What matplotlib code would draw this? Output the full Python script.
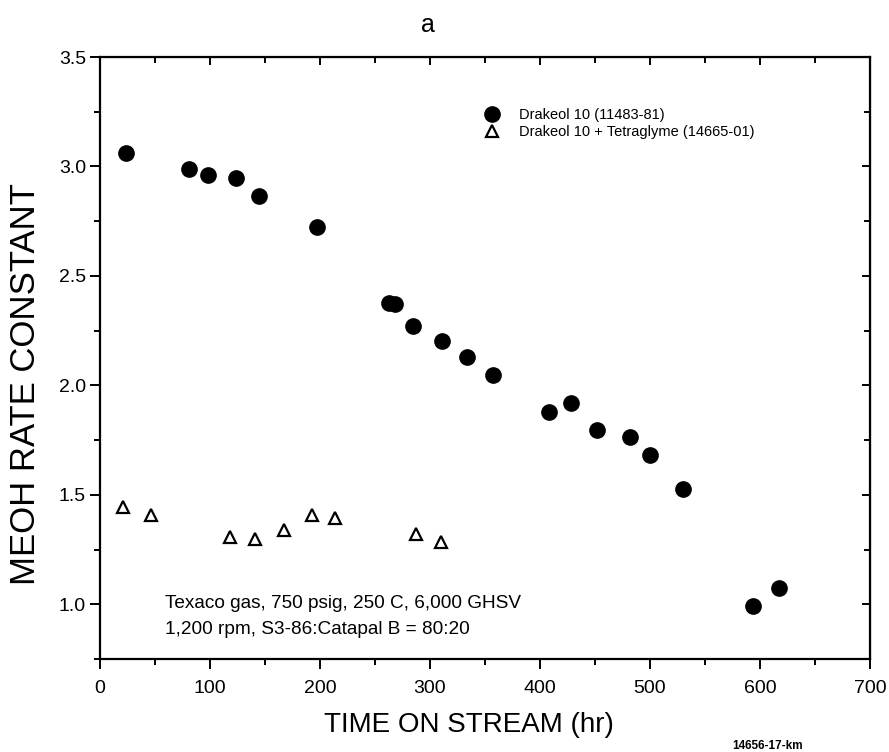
import matplotlib
matplotlib.use('Agg')
import matplotlib.pyplot as plt
from matplotlib.ticker import MultipleLocator, FormatStrFormatter

plt.rcParams['font.family'] = ['Liberation Sans', 'DejaVu Sans']

# Drakeol 10 (11483-81)
t_drak = [24, 81, 98, 124, 145, 197, 263, 268, 285, 311, 334, 357, 408, 428, 452, 482, 500, 530, 594, 617]
k_drak = [3.06, 2.99, 2.96, 2.945, 2.865, 2.725, 2.375, 2.37, 2.272, 2.203, 2.13, 2.047, 1.879, 1.92, 1.795, 1.765, 1.681, 1.525, 0.992, 1.075]

# Drakeol 10 + Tetraglyme (14665-01)
t_tetra = [21, 46, 118, 141, 167, 193, 214, 287, 310]
k_tetra = [1.442, 1.41, 1.308, 1.297, 1.341, 1.407, 1.396, 1.319, 1.285]

fig = plt.figure(figsize=(8.89, 7.52), dpi=100)
ax = fig.add_axes([0.1125, 0.1237, 0.866, 0.8005])

ax.plot(t_drak, k_drak, 'o', color='black', ms=11, label='Drakeol 10 (11483-81)')
ax.plot(t_tetra, k_tetra, '^', mfc='white', mec='black', mew=1.6, ms=9,
        label='Drakeol 10 + Tetraglyme (14665-01)')

ax.set_xlim(0, 700)
ax.set_ylim(0.75, 3.5)
ax.xaxis.set_major_locator(MultipleLocator(100))
ax.xaxis.set_minor_locator(MultipleLocator(50))
ax.set_yticks([1.0, 1.5, 2.0, 2.5, 3.0, 3.5])
ax.yaxis.set_minor_locator(MultipleLocator(0.25))
ax.yaxis.set_major_formatter(FormatStrFormatter('%.1f'))

for s in ax.spines.values():
    s.set_linewidth(1.6)
ax.tick_params(which='both', direction='out', width=1.4, labelsize=14)
ax.tick_params(which='major', length=7)
ax.tick_params(which='minor', length=4)
ax.tick_params(axis='x', pad=8)
ax.tick_params(axis='y', pad=3)
# inward ticks on top and right
ax2 = ax.secondary_xaxis('top')
ax2.xaxis.set_major_locator(MultipleLocator(100))
ax2.xaxis.set_minor_locator(MultipleLocator(50))
ax2.tick_params(which='both', direction='in', width=1.4, labeltop=False)
ax2.tick_params(which='major', length=6)
ax2.tick_params(which='minor', length=4)
ax3 = ax.secondary_yaxis('right')
ax3.yaxis.set_major_locator(MultipleLocator(0.5))
ax3.yaxis.set_minor_locator(MultipleLocator(0.25))
ax3.tick_params(which='both', direction='in', width=1.4, labelright=False)
ax3.tick_params(which='major', length=6)
ax3.tick_params(which='minor', length=4)

ax.set_xlabel('TIME ON STREAM (hr)', fontsize=20)
ax.set_ylabel('MEOH RATE CONSTANT', fontsize=25)
ax.xaxis.set_label_coords(0.479, -0.088)
ax.yaxis.set_label_coords(-0.076, 0.457)
fig.text(428 / 889, 1 - 25 / 752, 'a', fontsize=18, ha='center', va='center')

ax.legend(loc='upper left', bbox_to_anchor=(0.483, 0.925), frameon=False,
          fontsize=10.5, handletextpad=0.8, labelspacing=0.2, borderaxespad=0)

ax.text(59, 1.005, 'Texaco gas, 750 psig, 250 C, 6,000 GHSV', fontsize=13.7, va='center')
ax.text(59, 0.886, '1,200 rpm, S3-86:Catapal B = 80:20', fontsize=13.7, va='center')

fig.text(732 / 889, 1 - 746 / 752, '14656-17-km', fontsize=8.5, fontweight='bold', va='center')

fig.savefig('out.png', dpi=100)
